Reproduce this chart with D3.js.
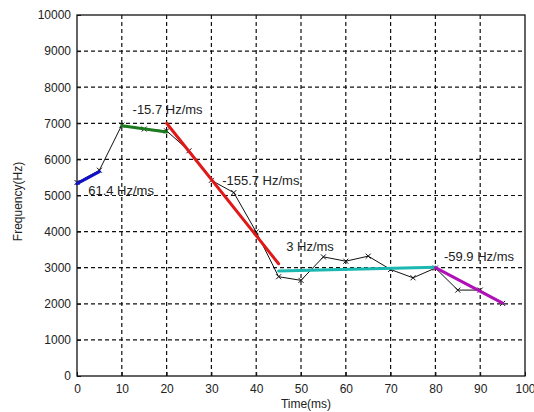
<!DOCTYPE html>
<html>
<head>
<meta charset="utf-8">
<script src="https://cdn.jsdelivr.net/npm/d3@7"></script>
<style>
  body { margin: 0; background: #fff; }
  text { font-family: "Liberation Sans", Arial, sans-serif; fill: #222; }
</style>
</head>
<body>
<div class="chart"></div>
<script>
// Data
let times = [0, 5, 10, 15, 20, 25, 30, 35, 40, 45, 50, 55, 60, 65, 70, 75, 80, 85, 90, 95];
let freqs = [5360, 5700, 6950, 6840, 6790, 6240, 5420, 5080, 3990, 2750, 2650, 3300, 3180, 3320, 2950, 2720, 2990, 2380, 2380, 2010];

// fitted segments: start and end points
let segNames = ["blue", "green", "red", "cyan", "magenta"];
let segStart = [[0, 5330], [10, 6930], [20, 7000], [45, 2910], [80, 3000]];
let segEnd = [[5, 5660], [20, 6760], [45, 3110], [80, 3010], [95, 2020]];
let segColors = ["#1010c8", "#1e7a1e", "#e01818", "#1ab8b0", "#b010b8"];

let slopeLabels = ["61.4 Hz/ms", "-15.7 Hz/ms", "-155.7 Hz/ms", "3 Hz/ms", "-59.9 Hz/ms"];
let labelPos = [[2.5, 5150], [12.4, 7370], [32.4, 5425], [46.7, 3580], [81.9, 3300]];

let xTicks = d3.range(0, 101, 10);
let yTicks = d3.range(0, 10001, 1000);

// Set up chart
let svgWidth = 534;
let svgHeight = 412;
let margin = { top: 15, right: 9, bottom: 36, left: 77 };
let chartWidth = svgWidth - margin.left - margin.right;
let chartHeight = svgHeight - margin.top - margin.bottom;

let svg = d3.select(".chart")
  .append("svg")
  .attr("width", svgWidth)
  .attr("height", svgHeight);

let chart = svg.append("g")
  .attr("transform", `translate(${margin.left}, ${margin.top})`);

let x = d3.scaleLinear().domain([0, 100]).range([0, chartWidth]);
let y = d3.scaleLinear().domain([0, 10000]).range([chartHeight, 0]);

// Dashed grid
chart.append("g")
  .selectAll("line")
  .data(xTicks.slice(1, -1))
  .enter().append("line")
  .attr("x1", d => x(d)).attr("x2", d => x(d))
  .attr("y1", 0).attr("y2", chartHeight)
  .attr("stroke", "#111").attr("stroke-width", 1.2)
  .attr("stroke-dasharray", "4,3");

chart.append("g")
  .selectAll("line")
  .data(yTicks.slice(1, -1))
  .enter().append("line")
  .attr("x1", 0).attr("x2", chartWidth)
  .attr("y1", d => y(d)).attr("y2", d => y(d))
  .attr("stroke", "#111").attr("stroke-width", 1.2)
  .attr("stroke-dasharray", "4,3");

// Frame
chart.append("rect")
  .attr("width", chartWidth).attr("height", chartHeight)
  .attr("fill", "none").attr("stroke", "#111").attr("stroke-width", 1.3);

// Axes
let bottomAxis = d3.axisBottom(x).tickValues(xTicks).tickSize(-4).tickPadding(8).tickFormat(d3.format("d"));
let leftAxis = d3.axisLeft(y).tickValues(yTicks).tickSize(-4).tickPadding(6).tickFormat(d3.format("d"));

let gx = chart.append("g")
  .attr("transform", `translate(0, ${chartHeight})`)
  .call(bottomAxis);
let gy = chart.append("g").call(leftAxis);

[gx, gy].forEach(g => {
  g.select(".domain").remove();
  g.selectAll("line").attr("stroke", "#111");
  g.selectAll("text").style("font-size", "12px").attr("fill", "#222")
    .style("font-family", "'Liberation Sans', Arial, sans-serif");
});

// Black measured line
let line = d3.line().x((d, i) => x(times[i])).y(d => y(d));
chart.append("path")
  .datum(freqs)
  .attr("d", line)
  .attr("fill", "none")
  .attr("stroke", "#111")
  .attr("stroke-width", 1);

// x markers
chart.selectAll(".mark")
  .data(freqs)
  .enter().append("path")
  .attr("class", "mark")
  .attr("transform", (d, i) => `translate(${x(times[i])},${y(d)})`)
  .attr("d", "M-2.5,-2.5L2.5,2.5M-2.5,2.5L2.5,-2.5")
  .attr("stroke", "#111")
  .attr("stroke-width", 1);

// Fitted segments
chart.selectAll(".seg")
  .data(segNames)
  .enter().append("line")
  .attr("class", "seg")
  .attr("x1", (d, i) => x(segStart[i][0]))
  .attr("y1", (d, i) => y(segStart[i][1]))
  .attr("x2", (d, i) => x(segEnd[i][0]))
  .attr("y2", (d, i) => y(segEnd[i][1]))
  .attr("stroke", (d, i) => segColors[i])
  .attr("stroke-width", 3)
  .attr("stroke-linecap", "round");

// Slope labels
chart.selectAll(".slope")
  .data(slopeLabels)
  .enter().append("text")
  .attr("class", "slope")
  .attr("x", (d, i) => x(labelPos[i][0]))
  .attr("y", (d, i) => y(labelPos[i][1]))
  .attr("dy", "0.35em")
  .style("font-size", "13px")
  .text(d => d);

// Axis titles
svg.append("text")
  .attr("transform", "rotate(-90)")
  .attr("x", -(margin.top + chartHeight / 2) - 6)
  .attr("y", 22)
  .attr("text-anchor", "middle")
  .style("font-size", "12px")
  .text("Frequency(Hz)");

svg.append("text")
  .attr("x", margin.left + chartWidth / 2 + 5)
  .attr("y", 408)
  .attr("text-anchor", "middle")
  .style("font-size", "12px")
  .text("Time(ms)");
</script>
</body>
</html>
